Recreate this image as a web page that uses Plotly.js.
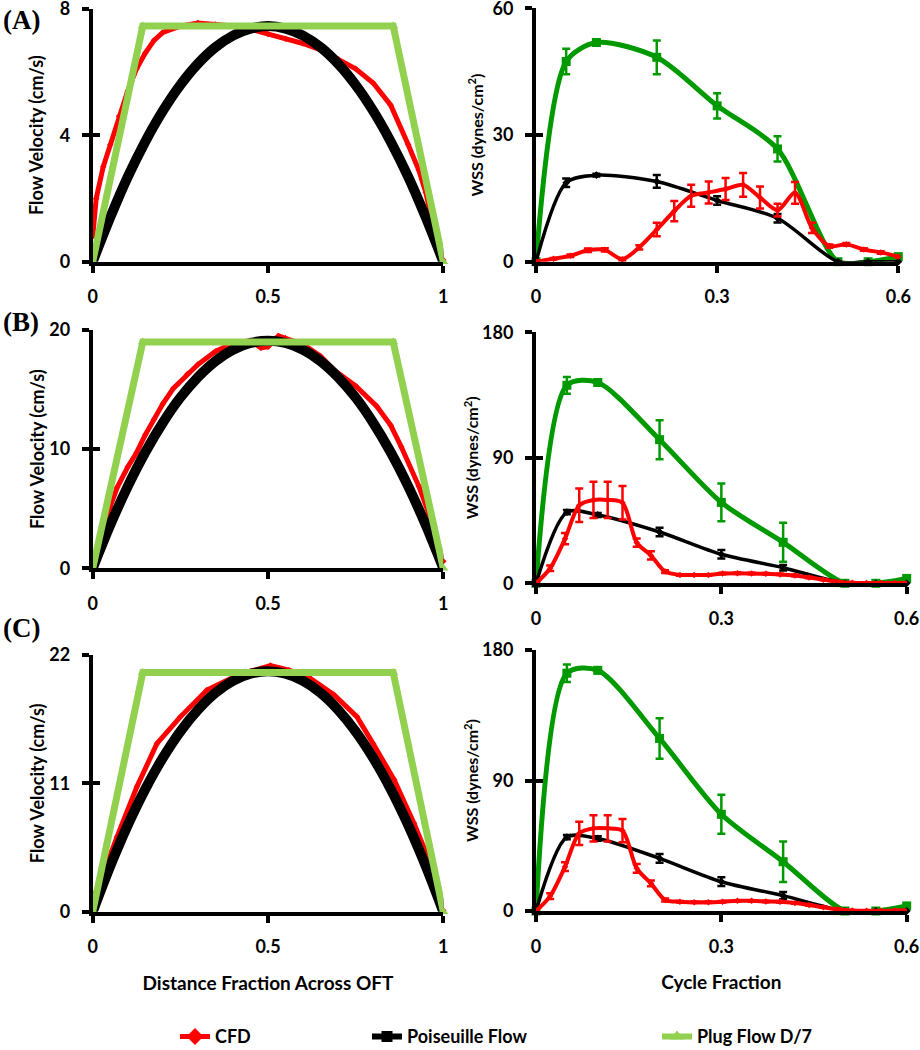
<!DOCTYPE html>
<html>
<head>
<meta charset="utf-8">
<script src="https://cdn.plot.ly/plotly-3.0.1.min.js"></script>
<style>html,body{margin:0;padding:0;background:#fff;}#chart{width:920px;height:1050px;}</style>
</head>
<body>
<div id="chart"></div>
<script>
// ---------- Left column: velocity profiles ----------
const distA_cfd = [0, 0.01, 0.03, 0.05, 0.075, 0.1, 0.125, 0.15, 0.175, 0.2, 0.25, 0.3, 0.35, 0.4, 0.45, 0.5, 0.55, 0.6, 0.65, 0.7, 0.75, 0.8, 0.85, 0.9, 0.93, 0.95, 0.97, 1.0];
const velA_cfd  = [0.8, 2.0, 3.0, 3.7, 4.6, 5.4, 6.1, 6.6, 7.0, 7.25, 7.45, 7.55, 7.5, 7.45, 7.35, 7.2, 7.05, 6.9, 6.7, 6.4, 6.1, 5.65, 4.95, 3.7, 2.9, 2.2, 1.2, 0.05];
const distPois  = [0, 0.05, 0.1, 0.15, 0.2, 0.25, 0.3, 0.35, 0.4, 0.45, 0.5, 0.55, 0.6, 0.65, 0.7, 0.75, 0.8, 0.85, 0.9, 0.95, 1.0];
const velA_pois = [0, 1.4, 2.68, 3.8, 4.77, 5.59, 6.26, 6.78, 7.15, 7.37, 7.45, 7.37, 7.15, 6.78, 6.26, 5.59, 4.77, 3.8, 2.68, 1.4, 0];
const distPlug  = [0, 0.1429, 0.8571, 1];
const velA_plug = [0, 7.45, 7.45, 0];

const distB_cfd = [0, 0.02, 0.05, 0.07, 0.1, 0.125, 0.15, 0.175, 0.2, 0.23, 0.27, 0.3, 0.35, 0.4, 0.45, 0.48, 0.5, 0.53, 0.55, 0.6, 0.65, 0.69, 0.75, 0.81, 0.85, 0.88, 0.93, 0.96, 0.98, 1.0];
const velB_cfd  = [0.5, 2.0, 5.2, 6.8, 8.5, 9.7, 11.2, 12.5, 13.8, 15.1, 16.3, 17.1, 18.2, 18.9, 19.1, 18.5, 18.6, 19.5, 19.3, 18.8, 17.8, 16.6, 15.3, 13.6, 12.0, 10.2, 6.9, 4.5, 2.5, 0.6];
const velB_pois = [0, 3.63, 6.88, 9.74, 12.22, 14.33, 16.04, 17.38, 18.34, 18.91, 19.1, 18.91, 18.34, 17.38, 16.04, 14.33, 12.22, 9.74, 6.88, 3.63, 0];
const velB_plug = [0, 19.0, 19.0, 0];

const distC_cfd = [0, 0.02, 0.069, 0.126, 0.183, 0.25, 0.326, 0.402, 0.45, 0.507, 0.56, 0.62, 0.688, 0.754, 0.8, 0.86, 0.916, 0.964, 0.985, 1.0];
const velC_cfd  = [1.1, 2.4, 6.4, 10.7, 14.4, 16.7, 19.0, 20.1, 20.6, 21.1, 20.7, 20.0, 18.6, 16.7, 14.4, 11.3, 7.6, 4.1, 2.0, 0.1];
const velC_pois = [0, 3.91, 7.42, 10.51, 13.18, 15.45, 17.3, 18.75, 19.78, 20.39, 20.6, 20.39, 19.78, 18.75, 17.3, 15.45, 13.18, 10.51, 7.42, 3.91, 0];
const velC_plug = [0, 20.5, 20.5, 0];

// ---------- Right column: wall shear stress ----------
const cycModel  = [0, 0.05, 0.1, 0.2, 0.3, 0.4, 0.5, 0.55, 0.6];
const wssA_plug = [0, 47.4, 51.9, 48.4, 36.9, 26.7, 0, 0, 1.2];
const errA_plug = [0, 3, 0.7, 4, 3, 3, 0, 0, 0];
const wssA_pois = [0, 18.7, 20.5, 19.0, 14.5, 10.3, 0, 0, 0];
const errA_pois = [0, 1, 0.3, 1.5, 1, 1, 0, 0, 0];
const cycA_cfd  = [0, 0.029, 0.057, 0.086, 0.114, 0.143, 0.171, 0.2, 0.229, 0.257, 0.286, 0.314, 0.343, 0.371, 0.4, 0.429, 0.457, 0.486, 0.514, 0.543, 0.571, 0.6];
const wssA_cfd  = [0, 0.7, 1.4, 2.7, 2.8, 0.6, 3.4, 7.6, 12.0, 15.6, 16.4, 17.2, 18.2, 15.2, 12.2, 16.3, 8.0, 3.7, 4.1, 2.9, 2.2, 1.2];
const errA_cfd  = [0, 0.2, 0.3, 0.4, 0.4, 0.3, 0.5, 1.6, 2.4, 2.6, 2.6, 2.6, 2.8, 2.6, 1.5, 2.6, 1.2, 0.4, 0.3, 0.3, 0.3, 0.2];

const wssB_plug = [0, 142, 144, 103, 58, 29.4, 0, 0, 3.5];
const errB_plug = [0, 6, 2, 14, 13.5, 14, 0, 0, 0];
const wssB_pois = [0, 51, 49, 36.8, 20.8, 11.2, 0, 0, 0];
const errB_pois = [0, 1.5, 1.5, 3, 3, 2, 0, 0, 0];
const cycBC_cfd = [0, 0.023, 0.047, 0.07, 0.093, 0.116, 0.14, 0.163, 0.186, 0.209, 0.233, 0.256, 0.279, 0.302, 0.326, 0.349, 0.372, 0.395, 0.419, 0.442, 0.465, 0.488, 0.512, 0.535, 0.558, 0.581, 0.605];
const wssB_cfd  = [0, 10.8, 32, 56, 59.8, 59.8, 57.8, 29.2, 20, 8.4, 6.0, 6.0, 6.0, 7.0, 7.2, 7.0, 6.8, 6.4, 5.6, 4.2, 2.6, 1.2, 0.4, 0.2, 0.2, 0.3, 0.5];
const errB_cfd  = [0, 2, 4, 12, 13, 13, 12, 3, 3, 1, 0.5, 0.5, 0.5, 0.5, 0.5, 0.5, 0.5, 0.5, 0.5, 0.5, 0.3, 0.3, 0.2, 0.2, 0.2, 0.2, 0.2];

const wssC_plug = [0, 164, 166, 119, 66.7, 34, 0, 0, 3.5];
const errC_plug = [0, 6, 2, 14, 13.5, 14, 0, 0, 0];
const wssC_pois = [0, 51, 50, 36.3, 20.2, 10.6, 0, 0, 0];
const errC_pois = [0, 1.5, 1.5, 3, 3, 2.5, 0, 0, 0];
const wssC_cfd  = [0, 10.3, 30.6, 53.6, 57, 57, 55.4, 29.4, 19.1, 7.6, 6.4, 6.0, 6.0, 6.4, 7.0, 7.0, 6.6, 6.4, 5.5, 4.2, 2.6, 1.2, 0.4, 0.2, 0.2, 0.3, 0.5];
const errC_cfd  = [0, 2, 3, 8, 9, 9, 8, 3, 2, 1, 0.5, 0.5, 0.5, 0.5, 0.5, 0.5, 0.5, 0.5, 0.5, 0.5, 0.3, 0.3, 0.2, 0.2, 0.2, 0.2, 0.2];

// ---------- Axis / text labels ----------
const legendNames = ['CFD', 'Poiseuille Flow', 'Plug Flow D/7'];
const panelLabels = ['(A)', '(B)', '(C)'];
const velTicks = [[0, 4, 8], [0, 10, 20], [0, 11, 22]];
const wssTicks = [[0, 30, 60], [0, 90, 180], [0, 90, 180]];
const distTicks = [0, 0.5, 1];
const distTickText = ['0', '0.5', '1'];
const cycTicks = [0, 0.3, 0.6];
const cycTickText = ['0', '0.3', '0.6'];
const velTitle = 'Flow Velocity (cm/s)';
const wssTitle = 'WSS (dynes/cm<sup>2</sup>)';
const distTitle = 'Distance Fraction Across OFT';
const cycTitle = 'Cycle Fraction';

// ---------- Styles ----------
const RED = '#FF0000', BLACK = '#000000', LGREEN = '#92D050', DGREEN = '#009A00';
const FONT = 'Lato, "Open Sans", sans-serif';

const traces = [];
function leftPanel(n, cx, cy, py, gy) {
  const xa = 'x' + n, ya = 'y' + n;
  traces.push({x: cx, y: cy, xaxis: xa, yaxis: ya, mode: 'lines+markers', showlegend: false,
    line: {color: RED, width: 5}, marker: {symbol: 'diamond', size: 5, color: RED}, cliponaxis: false});
  traces.push({x: distPois, y: py, xaxis: xa, yaxis: ya, mode: 'lines', showlegend: false,
    line: {color: BLACK, width: 10, shape: 'spline'}});
  traces.push({x: distPlug, y: gy, xaxis: xa, yaxis: ya, mode: 'lines+markers', showlegend: false,
    line: {color: LGREEN, width: 7}, marker: {symbol: 'triangle-up', size: 9, color: LGREEN}, cliponaxis: false});
}
function eb(arr, color) { return {type: 'data', array: arr, visible: true, color: color, thickness: 2.5, width: 4}; }
function rightPanel(n, gy, ge, by, be, cx, cy, ce) {
  const xa = 'x' + n, ya = 'y' + n;
  traces.push({x: cycModel, y: gy, error_y: eb(ge, DGREEN), xaxis: xa, yaxis: ya, mode: 'lines+markers', showlegend: false,
    line: {color: DGREEN, width: 5, shape: 'spline', smoothing: 0.8}, marker: {symbol: 'square', size: 9, color: DGREEN}, cliponaxis: false});
  traces.push({x: cycModel, y: by, error_y: eb(be, BLACK), xaxis: xa, yaxis: ya, mode: 'lines+markers', showlegend: false,
    line: {color: BLACK, width: 3.5, shape: 'spline', smoothing: 0.8}, marker: {symbol: 'diamond', size: 6, color: BLACK}, cliponaxis: false});
  traces.push({x: cx, y: cy, error_y: eb(ce, RED), xaxis: xa, yaxis: ya, mode: 'lines+markers', showlegend: false,
    line: {color: RED, width: 4, shape: 'spline', smoothing: 0.8}, marker: {symbol: 'diamond', size: 5, color: RED}, cliponaxis: false});
}
leftPanel(1, distA_cfd, velA_cfd, velA_pois, velA_plug);
rightPanel(2, wssA_plug, errA_plug, wssA_pois, errA_pois, cycA_cfd, wssA_cfd, errA_cfd);
leftPanel(3, distB_cfd, velB_cfd, velB_pois, velB_plug);
rightPanel(4, wssB_plug, errB_plug, wssB_pois, errB_pois, cycBC_cfd, wssB_cfd, errB_cfd);
leftPanel(5, distC_cfd, velC_cfd, velC_pois, velC_plug);
rightPanel(6, wssC_plug, errC_plug, wssC_pois, errC_pois, cycBC_cfd, wssC_cfd, errC_cfd);

// empty traces so the companion tick axes (y7..y12) are drawn
for (let n = 1; n <= 6; n++) {
  traces.push({x: [null], y: [null], xaxis: 'x' + n, yaxis: 'y' + (n + 6), mode: 'lines', showlegend: false, hoverinfo: 'skip'});
}

// legend-only entries
const legStyles = [
  {color: RED, width: 5, symbol: 'diamond', size: 13},
  {color: BLACK, width: 6, symbol: 'square', size: 11},
  {color: LGREEN, width: 6, symbol: 'triangle-up', size: 12}
];
legStyles.forEach((s, i) => {
  traces.push({x: [null], y: [null], xaxis: 'x1', yaxis: 'y1', mode: 'lines+markers', name: legendNames[i],
    legend: i === 0 ? 'legend' : 'legend' + (i + 1), showlegend: true,
    line: {color: s.color, width: s.width}, marker: {symbol: s.symbol, size: s.size, color: s.color}});
});

const W = 920, H = 1050;
const px = v => v / W, py = v => 1 - v / H;
const tickFont = {family: FONT, size: 18, color: '#000', weight: 'bold'};
const velTitleFont = {family: FONT, size: 18, color: '#000', weight: 'bold'};
const wssTitleFont = {family: FONT, size: 16, color: '#000', weight: 'bold'};
const xTitleFont = {family: FONT, size: 19, color: '#000', weight: 'bold'};
const legFont = {family: FONT, size: 18, color: '#000', weight: 'bold'};

function xAxis(n, left, right, tv, tt, title) {
  return {domain: [px(left), px(right)], anchor: 'y' + n, range: [tv[0], tv[2]], autorange: false,
    tickvals: tv, ticktext: tt, ticks: 'outside', ticklen: 7, tickwidth: 4, tickcolor: '#000',
    showline: true, linewidth: 4, linecolor: '#000', showgrid: false, zeroline: false,
    tickfont: tickFont, ticklabelstandoff: 9, ticklabeloverflow: 'allow',
    title: title ? {text: title, font: xTitleFont, standoff: 21} : undefined};
}
function yAxis(n, top, bottom, tv, title, font, standoff) {
  return {domain: [py(bottom), py(top)], anchor: 'x' + n, range: [tv[0], tv[2]], autorange: false,
    tickvals: tv, ticks: 'outside', ticklen: 7, tickwidth: 4, tickcolor: '#000',
    showline: true, linewidth: 4, linecolor: '#000', showgrid: false, zeroline: false,
    tickfont: tickFont, ticklabelstandoff: 8, ticklabeloverflow: 'allow',
    title: {text: title, font: font, standoff: standoff}};
}
// companion axis drawing the inner half of each y tick (ticks cross the axis line)
function yInner(n, tv) {
  return {overlaying: 'y' + n, anchor: 'x' + n, side: 'left', range: [tv[0], tv[2]], autorange: false,
    tickvals: tv, ticks: 'inside', ticklen: 7, tickwidth: 4, tickcolor: '#000',
    showticklabels: false, showline: false, showgrid: false, zeroline: false};
}

const legendBox = x => ({x: px(x), y: -0.005, xanchor: 'left', yanchor: 'bottom', font: legFont, bgcolor: 'rgba(0,0,0,0)'});

const layout = {
  width: W, height: H, margin: {l: 0, r: 0, t: 0, b: 0, autoexpand: false}, paper_bgcolor: '#fff', plot_bgcolor: 'rgba(0,0,0,0)',
  font: {family: FONT, color: '#000'},
  xaxis: xAxis(1, 92.7, 443.3, distTicks, distTickText),
  yaxis: yAxis(1, 8.7, 261.7, velTicks[0], velTitle, velTitleFont, 12),
  xaxis2: xAxis(2, 536, 898.3, cycTicks, cycTickText),
  yaxis2: yAxis(2, 8.3, 261.7, wssTicks[0], wssTitle, wssTitleFont, 6),
  xaxis3: xAxis(3, 92.7, 443.3, distTicks, distTickText),
  yaxis3: yAxis(3, 330, 568.3, velTicks[1], velTitle, velTitleFont, 1),
  xaxis4: xAxis(4, 536, 906.7, cycTicks, cycTickText),
  yaxis4: yAxis(4, 332.3, 583.3, wssTicks[1], wssTitle, wssTitleFont, 0),
  xaxis5: xAxis(5, 92.7, 443.3, distTicks, distTickText, distTitle),
  yaxis5: yAxis(5, 655, 911.7, velTicks[2], velTitle, velTitleFont, 1),
  xaxis6: xAxis(6, 536, 906.7, cycTicks, cycTickText, cycTitle),
  yaxis6: yAxis(6, 650, 911, wssTicks[2], wssTitle, wssTitleFont, 0),
  yaxis7: yInner(1, velTicks[0]),
  yaxis8: yInner(2, wssTicks[0]),
  yaxis9: yInner(3, velTicks[1]),
  yaxis10: yInner(4, wssTicks[1]),
  yaxis11: yInner(5, velTicks[2]),
  yaxis12: yInner(6, wssTicks[2]),
  legend: legendBox(175),
  legend2: legendBox(367),
  legend3: legendBox(657),
  annotations: panelLabels.map((t, i) => ({
    text: t, xref: 'paper', yref: 'paper', x: px(1), y: py([20, 322, 628][i]), xanchor: 'left', yanchor: 'middle',
    showarrow: false, font: {family: '"Liberation Serif", "Times New Roman", serif', size: 27, weight: 'bold', color: '#000'}
  }))
};

Plotly.newPlot('chart', traces, layout, {displayModeBar: false, staticPlot: true});
</script>
</body>
</html>
